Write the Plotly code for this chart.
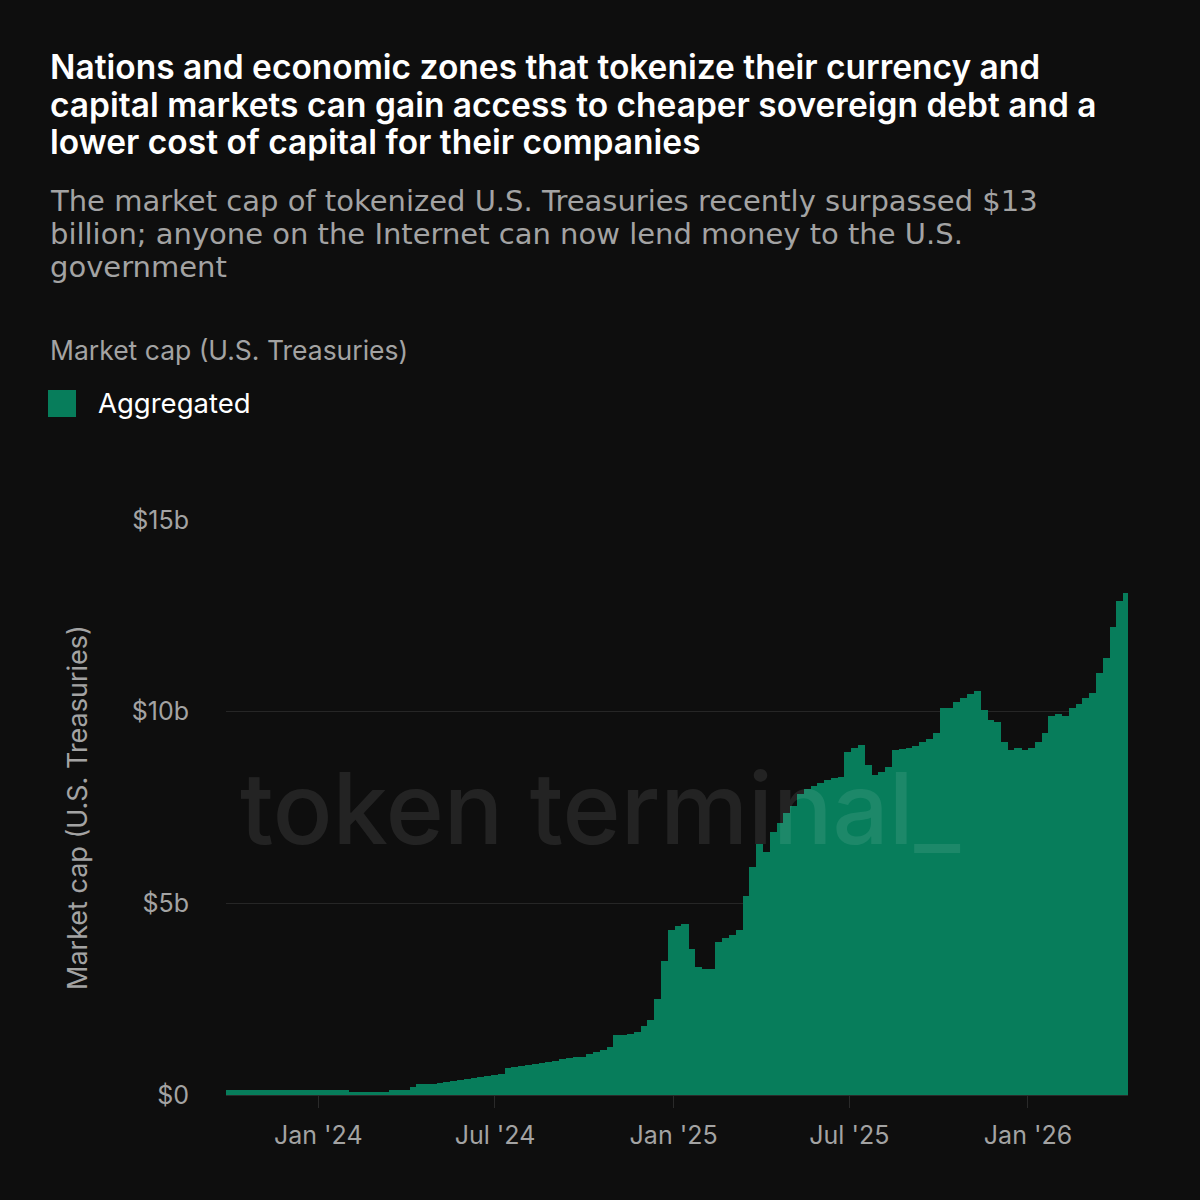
import datetime as dt
import plotly.graph_objects as go

# ---- data (weekly, billions USD) ----
start_date = dt.date(2023, 9, 28)
market_cap_b = [
    0.13, 0.13, 0.13, 0.13, 0.13, 0.13, 0.13, 0.13, 0.13, 0.13,
    0.13, 0.13, 0.13, 0.13, 0.13, 0.13, 0.13, 0.13, 0.08, 0.08,
    0.08, 0.08, 0.08, 0.08, 0.13, 0.13, 0.13, 0.20, 0.28, 0.28,
    0.30, 0.32, 0.34, 0.36, 0.40, 0.42, 0.44, 0.48, 0.50, 0.53,
    0.55, 0.70, 0.72, 0.75, 0.77, 0.80, 0.83, 0.86, 0.90, 0.94,
    0.96, 0.98, 1.00, 1.07, 1.12, 1.17, 1.25, 1.57, 1.57, 1.60,
    1.65, 1.80, 1.95, 2.50, 3.50, 4.30, 4.40, 4.45, 3.80, 3.35,
    3.30, 3.30, 4.00, 4.10, 4.17, 4.30, 5.20, 5.95, 6.55, 6.35,
    6.85, 7.10, 7.35, 7.55, 7.85, 7.98, 8.05, 8.15, 8.22, 8.27,
    8.30, 8.95, 9.05, 9.13, 8.60, 8.35, 8.42, 8.55, 9.00, 9.02,
    9.05, 9.10, 9.20, 9.30, 9.45, 10.10, 10.10, 10.25, 10.35, 10.45,
    10.55, 10.05, 9.78, 9.74, 9.20, 9.00, 9.05, 9.00, 9.05, 9.20,
    9.45, 9.90, 9.95, 9.90, 10.10, 10.20, 10.35, 10.50, 11.00, 11.40,
    12.20, 12.90, 13.10,
]
week_dates = [start_date + dt.timedelta(days=7 * i) for i in range(len(market_cap_b))]

title_lines = [
    "Nations and economic zones that tokenize their currency and",
    "capital markets can gain access to cheaper sovereign debt and a",
    "lower cost of capital for their companies",
]
subtitle_lines = [
    "The market cap of tokenized U.S. Treasuries recently surpassed $13",
    "billion; anyone on the Internet can now lend money to the U.S.",
    "government",
]
y_tickvals = [0, 5, 10, 15]
y_ticktext = ["$0", "$5b", "$10b", "$15b"]
x_tickvals = ["2024-01-01", "2024-07-01", "2025-01-01", "2025-07-01", "2026-01-01"]
x_ticktext = ["Jan '24", "Jul '24", "Jan '25", "Jul '25", "Jan '26"]

# ---- style ----
BG = "#0e0e0e"
GREEN = "#077d5b"
GRAY = "#a3a3a3"
FONT = "Inter"
SUB_FONT = "DejaVu Sans"
W, H = 1200, 1200
L, R, T, B = 226, 1128, 520, 1095


def px(X, Y):
    return (X - L) / (R - L), (B - Y) / (B - T)


fig = go.Figure()
fig.add_trace(go.Bar(
    x=week_dates, y=market_cap_b,
    width=7.4 * 86400000, offset=0,
    marker=dict(color=GREEN, line=dict(width=0)),
    name="Aggregated", showlegend=False,
    hovertemplate="%{x}<br>$%{y:.2f}b<extra></extra>",
))

ann = []
for i, t in enumerate(title_lines):
    x, y = px(48, [67, 105, 142][i])
    ann.append(dict(text=t, x=x, y=y, xanchor="left", yanchor="middle",
                    font=dict(family=FONT, size=33.5, color="#ffffff", weight=600)))
for i, t in enumerate(subtitle_lines):
    x, y = px(48, [201, 234, 267][i])
    ann.append(dict(text=t, x=x, y=y, xanchor="left", yanchor="middle",
                    font=dict(family=SUB_FONT, size=29, color=GRAY)))
x, y = px(48, 350)
ann.append(dict(text="Market cap (U.S. Treasuries)", x=x, y=y, xanchor="left", yanchor="middle",
                font=dict(family=FONT, size=26.5, color=GRAY)))
x, y = px(96, 403)
ann.append(dict(text="Aggregated", x=x, y=y, xanchor="left", yanchor="middle",
                font=dict(family=FONT, size=27.5, color="#ffffff")))
x, y = px(77, 808)
ann.append(dict(text="Market cap (U.S. Treasuries)", x=x, y=y, xanchor="center", yanchor="middle",
                textangle=-90, font=dict(family=FONT, size=27, color=GRAY)))
x, y = px(600, 808)
ann.append(dict(text="token terminal_", x=x, y=y, xanchor="center", yanchor="middle",
                font=dict(family=FONT, size=99, color="rgba(255,255,255,0.09)", weight=500)))
for a in ann:
    a.update(xref="paper", yref="paper", showarrow=False)

x0, y0 = px(48, 417)
x1, y1 = px(76, 390)
shapes = [dict(type="rect", xref="paper", yref="paper", x0=x0, y0=y0, x1=x1, y1=y1,
               fillcolor=GREEN, line=dict(width=0), layer="above")]

fig.update_layout(
    width=W, height=H,
    margin=dict(l=L, r=W - R, t=T, b=H - B, pad=0),
    paper_bgcolor=BG, plot_bgcolor=BG,
    bargap=0,
    annotations=ann, shapes=shapes,
    font=dict(family=FONT, color=GRAY),
    xaxis=dict(
        type="date", range=["2023-09-28", "2026-04-14"],
        tickvals=x_tickvals, ticktext=x_ticktext,
        tickfont=dict(family=FONT, size=25, color=GRAY),
        ticks="outside", ticklen=12, tickcolor="#2a2a2a", tickwidth=1,
        ticklabelstandoff=6,
        showgrid=False, showline=True, linecolor="#2a2a2a", linewidth=1,
        zeroline=False, fixedrange=True,
    ),
    yaxis=dict(
        range=[0, 15], tickvals=y_tickvals, ticktext=y_ticktext,
        tickfont=dict(family=FONT, size=25, color=GRAY),
        showgrid=True, gridcolor="#262626", gridwidth=1,
        zeroline=False, showline=False, ticks="", ticklabelstandoff=36,
        fixedrange=True,
    ),
)

fig.write_html(
    "out.html",
    config={"displayModeBar": False},
    post_script="document.body.style.margin='0';document.body.style.background='%s';" % BG,
)
